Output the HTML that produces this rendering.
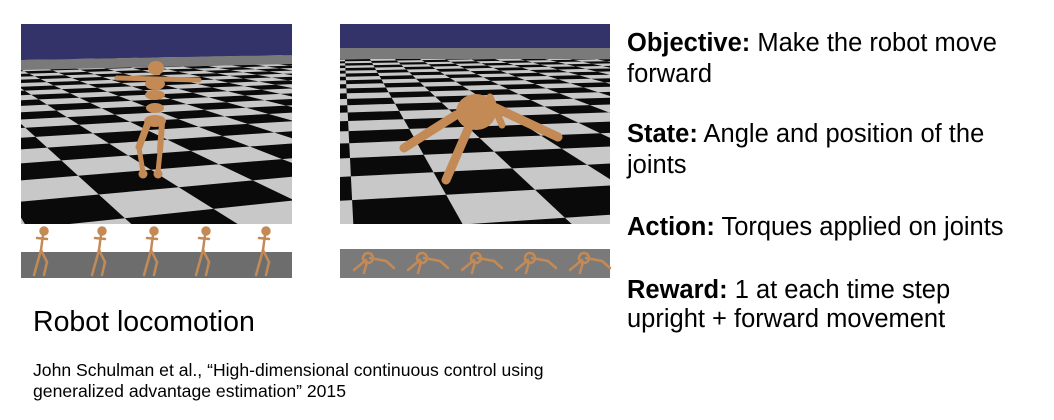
<!DOCTYPE html>
<html><head><meta charset="utf-8"><style>
html,body{margin:0;width:1054px;height:420px;background:#fff;position:relative;overflow:hidden;font-family:"Liberation Sans",Arial,sans-serif;}
.t{position:absolute;left:627px;font-size:25.5px;color:#000;white-space:nowrap;line-height:1;}
.t b{font-weight:bold;}
svg{position:absolute;left:0;top:0;display:block;}
</style></head><body>
<svg id="s" width="1054" height="300" xmlns="http://www.w3.org/2000/svg">
<defs>
<clipPath id="c1"><rect x="21" y="24" width="271" height="200"/></clipPath>
<clipPath id="c2"><rect x="340" y="24" width="270" height="200"/></clipPath>
</defs>
<rect x="21" y="24" width="271" height="200" fill="#c8c8c8"/>
<rect x="340" y="24" width="270" height="200" fill="#c8c8c8"/>
<g id="b1" clip-path="url(#c1)"></g>
<g id="b2" clip-path="url(#c2)"></g>
<polygon points="21,24 292,24 292,55 21,60" fill="#33336a"/>
<polygon points="21,60 292,55 292,64 21,70" fill="#7a7a7a"/>
<rect x="340" y="24" width="270" height="24" fill="#33336a"/>
<rect x="340" y="48" width="270" height="11" fill="#7a7a7a"/>
<g stroke="#c48a55" stroke-linecap="round" fill="#c48a55">
<line x1="117" y1="78" x2="199" y2="80" stroke-width="5"/>
<ellipse cx="156" cy="68" rx="8" ry="7" stroke="none"/>
<ellipse cx="155" cy="84" rx="10" ry="6" stroke="none"/>
<ellipse cx="155" cy="95" rx="10" ry="5" stroke="none"/>
<ellipse cx="155" cy="108" rx="9" ry="5" stroke="none"/>
<ellipse cx="155" cy="121" rx="11" ry="6" stroke="none"/>
<line x1="148" y1="123" x2="139" y2="147" stroke-width="7"/>
<line x1="162" y1="123" x2="160" y2="151" stroke-width="6"/>
<line x1="139" y1="148" x2="143" y2="172" stroke-width="5"/>
<line x1="160" y1="152" x2="158" y2="172" stroke-width="5"/>
<circle cx="143" cy="174" r="4.5" stroke="none"/><circle cx="158" cy="174" r="4.5" stroke="none"/>
<line x1="490" y1="97" x2="502" y2="125" stroke-width="7"/>
<line x1="456" y1="115" x2="404" y2="148" stroke-width="9"/>
<line x1="472" y1="120" x2="446" y2="180" stroke-width="9"/>
<line x1="496" y1="108" x2="558" y2="137" stroke-width="9"/>
<ellipse cx="476" cy="112" rx="20" ry="18" stroke="none"/>
</g>
<rect x="21" y="252" width="271" height="26" fill="#6d6d6d"/>
<rect x="340" y="249" width="270" height="29" fill="#7a7a7a"/>
<g id="st" stroke="#c48a55" stroke-linecap="round" fill="#c48a55" stroke-width="2.5"></g>
</svg>
<div class="t" style="top:31px"><b>Objective:</b> Make the robot move</div>
<div class="t" style="top:62px">forward</div>
<div class="t" style="top:122px"><b>State:</b> Angle and position of the</div>
<div class="t" style="top:153px">joints</div>
<div class="t" style="top:215px"><b>Action:</b> Torques applied on joints</div>
<div class="t" style="top:278px"><b>Reward:</b> 1 at each time step</div>
<div class="t" style="top:307px">upright + forward movement</div>
<div style="position:absolute;left:33px;top:308px;font-size:28.5px;line-height:1;">Robot locomotion</div>
<div style="position:absolute;left:33px;top:360px;font-size:17.6px;line-height:21px;white-space:nowrap;">John Schulman et al., “High-dimensional continuous control using<br>generalized advantage estimation” 2015</div>
<script>
function board(id,cx,y0,f,h,s,a,ox){
 var g=document.getElementById(id),ca=Math.cos(a),sa=Math.sin(a),out="";
 function P(X,Z){var x=X*ca-Z*sa,z=X*sa+Z*ca;return z>0.05?[cx+f*x/z,y0+f*h/z]:null;}
 for(var i=-80;i<80;i++)for(var j=-20;j<120;j++){
  if(((i+j)%2+2)%2)continue;
  var X=i*s+ox,Z=j*s;
  var p=[P(X,Z),P(X+s,Z),P(X+s,Z+s),P(X,Z+s)];
  if(p.some(function(q){return !q;}))continue;
  out+='<polygon fill="#0a0a0a" points="'+p.map(function(q){return q[0].toFixed(1)+","+q[1].toFixed(1)}).join(" ")+'"/>';
 }
 g.innerHTML=out;
}
board("b1",156,10,713,1,0.467,0.35,0.1);
board("b2",475,10,654,1,0.5,0.2,0.05);
var st=document.getElementById("st"),h="";
[44,102,154,206,266].forEach(function(x){
 h+='<circle cx="'+x+'" cy="231" r="3.5"/><line x1="'+(x-1)+'" y1="235" x2="'+(x-3)+'" y2="250"/><line x1="'+(x-3)+'" y1="250" x2="'+(x-10)+'" y2="275"/><line x1="'+(x-3)+'" y1="250" x2="'+(x+3)+'" y2="262"/><line x1="'+(x+3)+'" y1="262" x2="'+x+'" y2="275"/><line x1="'+(x-7)+'" y1="238" x2="'+(x+3)+'" y2="239"/>';
});
[362,416,470,524,578].forEach(function(x){
 h+='<circle cx="'+(x+6)+'" cy="258" r="5" fill="none"/><line x1="'+(x-8)+'" y1="270" x2="'+(x+4)+'" y2="260"/><line x1="'+(x+8)+'" y1="258" x2="'+(x+24)+'" y2="261"/><line x1="'+(x+24)+'" y1="261" x2="'+(x+32)+'" y2="268"/><line x1="'+(x+5)+'" y1="262" x2="'+(x+2)+'" y2="273"/>';
});
st.innerHTML=h;
</script>
</body></html>
